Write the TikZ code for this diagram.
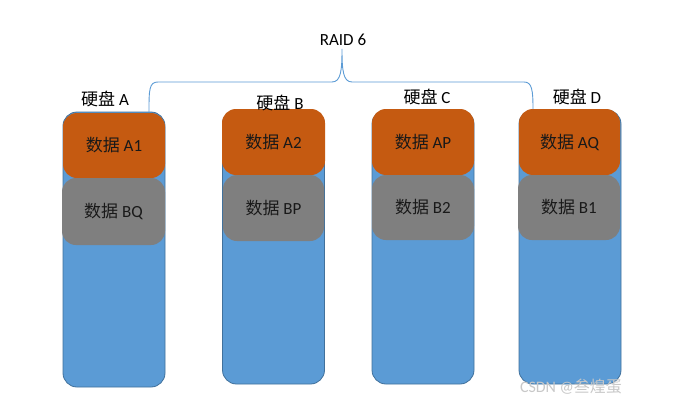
\documentclass[tikz,border=0pt]{standalone}
\usepackage{fontspec}
\setmainfont{Carlito}
\newfontfamily\cjk{Noto Sans CJK SC}
\usepackage{xcolor}
\definecolor{cDisk}{HTML}{5B9BD5}
\definecolor{cDiskLine}{HTML}{41719C}
\definecolor{cData}{HTML}{C55A11}
\definecolor{cParity}{HTML}{7F7F7F}
\definecolor{cMark}{HTML}{C8C8C8}
\usetikzlibrary{positioning}
\tikzset{
  disk-body/.style={draw=cDiskLine,fill=cDisk,rounded corners=14pt,thick},
  blk-data/.style={fill=cData,rounded corners=14pt,font=\fontsize{17}{20}\selectfont,text=black!90},
  blk-parity/.style={fill=cParity,rounded corners=14pt,font=\fontsize{17}{20}\selectfont,text=black!90},
  disk-label/.style={font=\fontsize{17}{20}\selectfont},
  brace-line/.style={draw=cDisk,line width=0.9pt},
}
\begin{document}
\begin{tikzpicture}[x=1pt,y=-1pt]
  \useasboundingbox[fill=white] (0,0) rectangle (673,407);
  % disk bodies
  \foreach \name/\x/\y/\h in {A/114/249.5/275, B/273.5/247/274, C/423/247/274, D/570/247/274} {
    \node[disk-body,minimum width=102pt,minimum height=\h pt] (disk\name) at (\x,\y) {};
  }
  % first row: data blocks
  \node[blk-data,minimum width=102pt,minimum height=65pt] (dA1) at (114,145.5) {{\cjk 数据} A1\hspace{12pt}};
  \node[blk-data,minimum width=103pt,minimum height=66pt] (dA2) at (273.5,142) {{\cjk 数据} A2\hspace{8pt}};
  \node[blk-data,minimum width=102pt,minimum height=66pt] (dAP) at (423,142) {{\cjk 数据} AP};
  \node[blk-data,minimum width=101pt,minimum height=66pt] (dAQ) at (569.5,142) {{\cjk 数据} AQ\hspace{4pt}};
  % second row
  \node[blk-parity,minimum width=103pt,minimum height=67pt] (dBQ) at (113.5,211.5) {{\cjk 数据} BQ\hspace{20pt}};
  \node[blk-parity,minimum width=101pt,minimum height=66pt] (dBP) at (273.5,208) {{\cjk 数据} BP\hspace{-6pt}};
  \node[blk-parity,minimum width=102pt,minimum height=65pt] (dB2) at (423,207.5) {{\cjk 数据} B2};
  \node[blk-parity,minimum width=102pt,minimum height=65pt] (dB1) at (569,207.5) {{\cjk 数据} B1\hspace{-2pt}};
  % labels
  \node[disk-label] (lblA) at (105,99) {{\cjk 硬盘} A};
  \node[disk-label] (lblB) at (280,103) {{\cjk 硬盘} B};
  \node[disk-label] (lblC) at (427,97) {{\cjk 硬盘} C};
  \node[disk-label] (lblD) at (577,97) {{\cjk 硬盘} D};
  \node[disk-label] (raid) at (343,40) {RAID 6};
  % brace
  \coordinate (braceL) at (149,112);
  \coordinate (braceR) at (533,109);
  \coordinate (braceM) at (342,49);
  \draw[brace-line] (braceL) .. controls (149,90) and (149,82) .. (158,82)
    -- (332,82) .. controls (341,82) and (342,70) .. (braceM)
    .. controls (342,70) and (343,82) .. (352,82)
    -- (524,82) .. controls (532,82) and (533,90) .. (braceR);
  % watermark
  \node[font=\fontsize{16}{18}\selectfont,text=cMark] (mark) at (571,387) {CSDN @{\cjk 叁煌蛋}};
\end{tikzpicture}
\end{document}
